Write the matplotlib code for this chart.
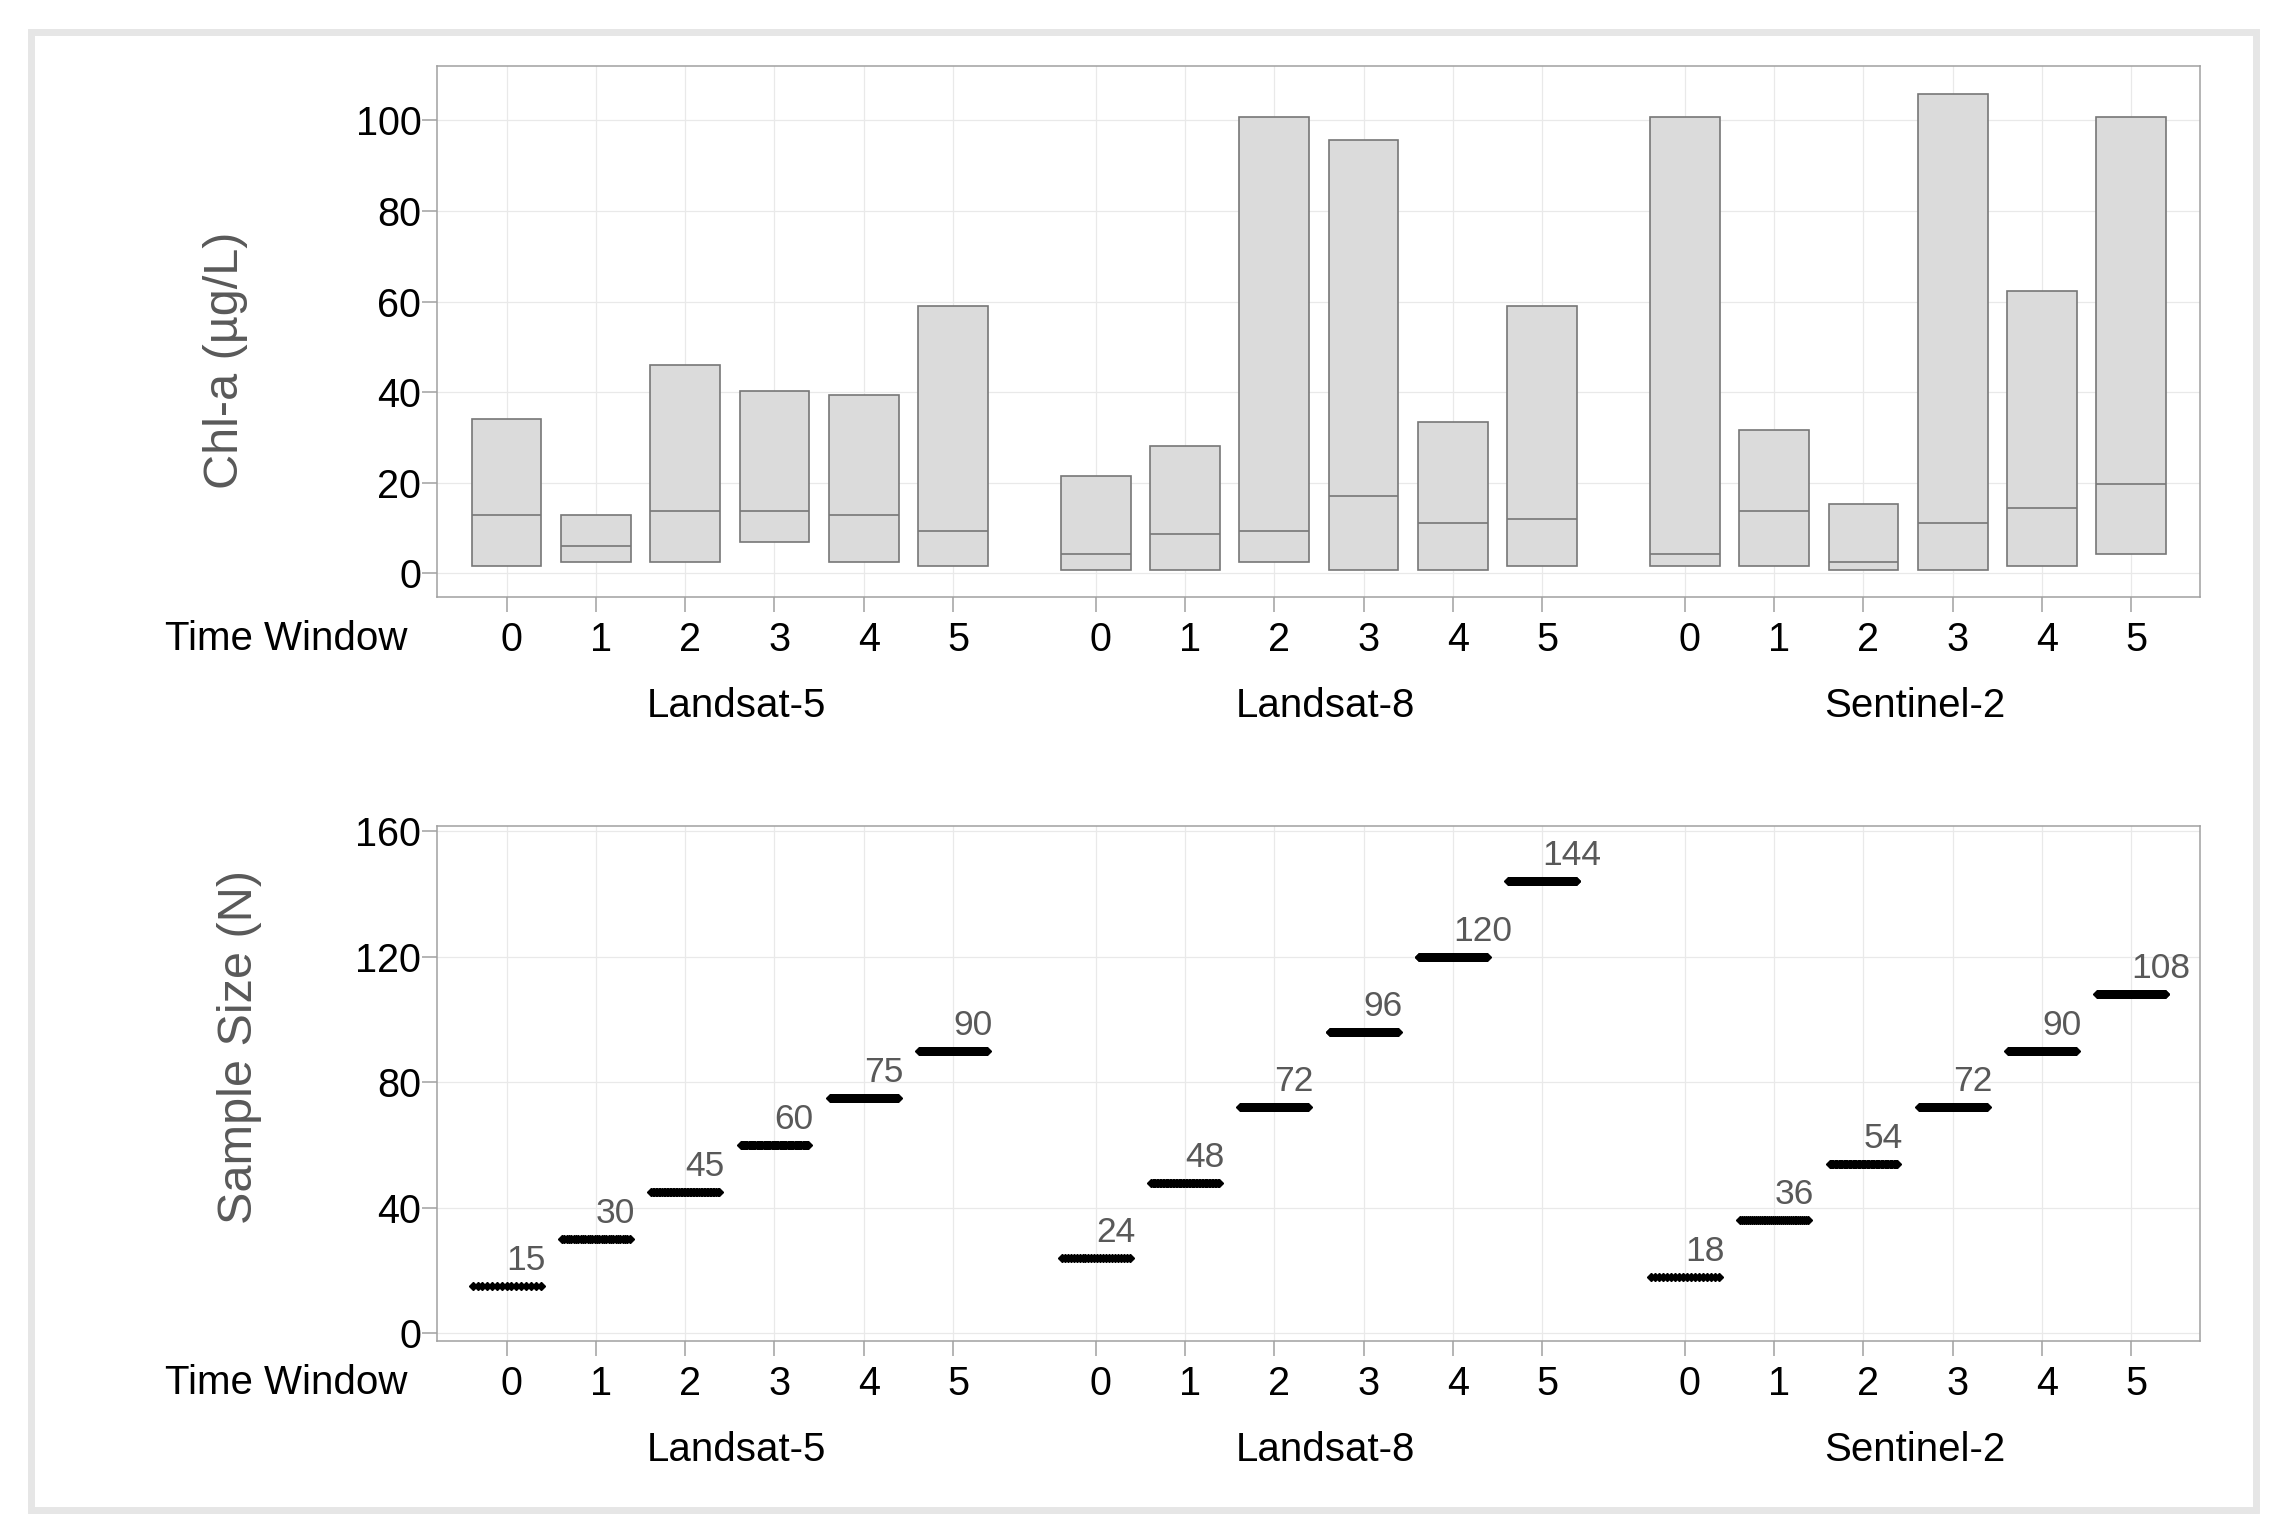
import numpy as np
import matplotlib
matplotlib.use('Agg')
from matplotlib import pyplot as plt
from matplotlib.patches import Rectangle
from matplotlib.transforms import ScaledTranslation

plt.rcParams['font.family'] = ['Liberation Sans', 'DejaVu Sans']

sensors = ['Landsat-5', 'Landsat-8', 'Sentinel-2']
windows = [0, 1, 2, 3, 4, 5]

# Chl-a range per sensor / time window (ug/L)
chl_min = [
    [1.7, 2.5, 2.5, 6.9, 2.5, 1.7],
    [0.8, 0.8, 2.5, 0.8, 0.8, 1.7],
    [1.7, 1.7, 0.8, 0.8, 1.7, 4.3],
]
chl_med = [
    [12.8, 6.0, 13.7, 13.7, 12.8, 9.4],
    [4.3, 8.6, 9.4, 17.0, 11.1, 11.9],
    [4.3, 13.7, 2.6, 11.1, 14.5, 19.7],
]
chl_max = [
    [34.1, 12.8, 46.1, 40.2, 39.3, 59.0],
    [21.4, 28.2, 100.8, 95.7, 33.4, 59.0],
    [100.8, 31.6, 15.4, 105.9, 62.4, 100.8],
]

# sample size per sensor / time window
sample_n = [
    [15, 30, 45, 60, 75, 90],
    [24, 48, 72, 96, 120, 144],
    [18, 36, 54, 72, 90, 108],
]

W, H = 2288, 1539
fig = plt.figure(figsize=(W / 100, H / 100), dpi=100)


def px_rect(l, t, r, b):
    return [l / W, 1 - b / H, (r - l) / W, (b - t) / H]


ax1 = fig.add_axes(px_rect(437, 66, 2200, 596.5))
ax2 = fig.add_axes(px_rect(437, 825.6, 2200, 1340.7))

# light gray frame round the whole figure
fig.patches.append(Rectangle((30.5 / W, 1 - 1509.5 / H), (2255.5 - 30.5) / W,
                             (1509.5 - 32) / H, transform=fig.transFigure,
                             fill=False, ec='#e6e6e6', lw=5, zorder=0))

group_step = 6.6
bar_w = 0.78
edge = '#777777'
xpos = []
xlab = []
for g in range(len(sensors)):
    for w in windows:
        xpos.append(g * group_step + w)
        xlab.append(str(w))

for g in range(len(sensors)):
    x = np.array(windows) + g * group_step
    lo = np.array(chl_min[g])
    hi = np.array(chl_max[g])
    ax1.bar(x, hi - lo, bottom=lo, width=bar_w, color='#dbdbdb',
            edgecolor=edge, linewidth=1.2, zorder=2)
    ax1.hlines(chl_med[g], x - bar_w / 2, x + bar_w / 2, color=edge,
               linewidth=1.2, zorder=3)

    for xi, n in zip(x, sample_n[g]):
        xs = xi + np.linspace(-0.38, 0.38, n)
        ax2.plot(xs, [n] * n, linestyle='none', marker='D', ms=4,
                 color='black', mec='black', zorder=3)
        ax2.annotate(str(n), xy=(xi, n), xytext=(0, 11.5),
                     textcoords='offset points', ha='left', va='baseline',
                     fontsize=25.5, color='#595959')

shift = ScaledTranslation(5 / 100, 0, fig.dpi_scale_trans)
for ax in (ax1, ax2):
    ax.set_xlim(-0.78, 18.97)
    ax.set_xticks(xpos)
    ax.set_xticklabels(xlab)
    ax.grid(True, color='#e9e9e9', linewidth=0.9)
    ax.set_axisbelow(True)
    for s in ax.spines.values():
        s.set_color('#a0a0a0')
        s.set_linewidth(1.1)
    ax.tick_params(axis='both', colors='#a0a0a0', labelcolor='black',
                   length=10.8, width=1.1, labelsize=28.5)
    ax.tick_params(axis='x', pad=6.5)
    ax.tick_params(axis='y', pad=0.5)
    for lab in ax.get_xticklabels():
        lab.set_transform(lab.get_transform() + shift)
    ax.annotate('Time Window', xy=(0, 0), xycoords='axes fraction',
                xytext=(-20.9, -38.2), textcoords='offset points',
                ha='right', va='baseline', fontsize=29, color='black')
    for g, name in enumerate(sensors):
        ax.annotate(name, xy=(g * group_step + 2.5, 0),
                    xycoords=('data', 'axes fraction'),
                    xytext=(5, -86.4), textcoords='offset points',
                    ha='center', va='baseline', fontsize=29, color='black')

ax1.set_ylim(-5.1, 112)
ax1.set_yticks([0, 20, 40, 60, 80, 100])
ax2.set_ylim(-2.3, 161.7)
ax2.set_yticks([0, 40, 80, 120, 160])

fig.text(226 / W, 1 - 360 / H, 'Chl-a (µg/L)', rotation=90, ha='center',
         va='center', fontsize=35, color='#595959')
fig.text(240 / W, 1 - 1047 / H, 'Sample Size (N)', rotation=90, ha='center',
         va='center', fontsize=35, color='#595959')

fig.savefig('out.png', dpi=100, facecolor='white')
